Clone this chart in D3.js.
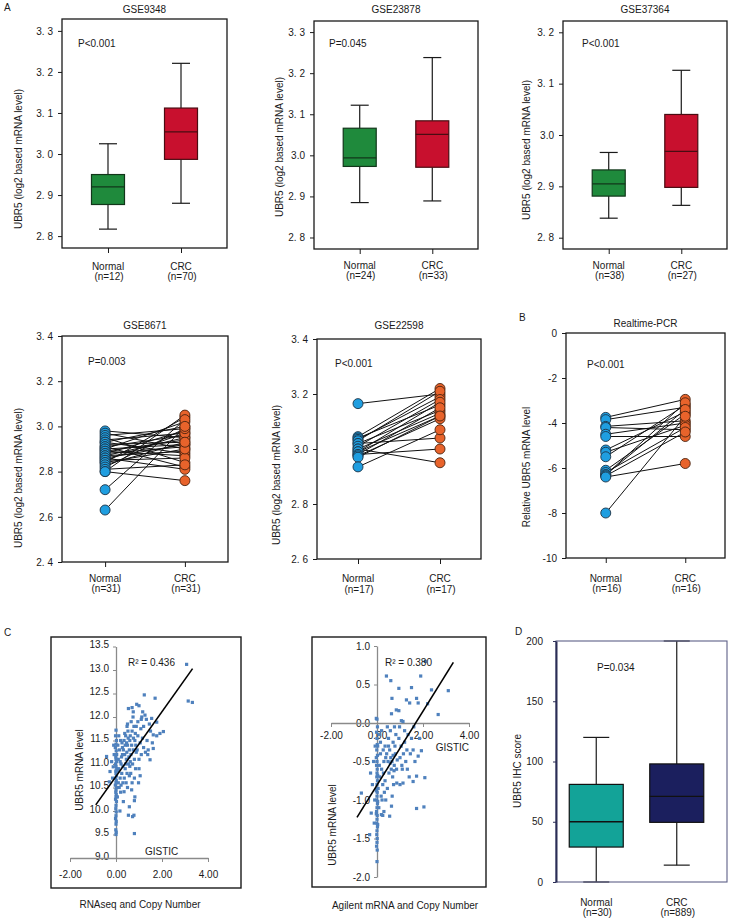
<!DOCTYPE html>
<html><head><meta charset="utf-8">
<script src="https://cdn.jsdelivr.net/npm/d3@7"></script>
<style>body{margin:0;background:#fff}svg{display:block;font-family:"Liberation Sans",Arial,sans-serif}</style>
</head><body><svg id="c" width="730" height="923"></svg>
<script>
// ---------------- DATA ----------------
const groups = ["Normal", "CRC"];
// box stats: [min, q1, median, q3, max]
const gse9348Stats = [[2.817, 2.877, 2.920, 2.950, 3.025], [2.880, 2.987, 3.054, 3.112, 3.221]];
const gse9348N = ["(n=12)", "(n=70)"];
const gse9348Ticks = [2.8, 2.9, 3.0, 3.1, 3.2, 3.3];
const gse9348TickLabels = ["2. 8", "2. 9", "3. 0", "3. 1", "3. 2", "3. 3"];

const gse23878Stats = [[2.885, 2.973, 2.994, 3.066, 3.122], [2.889, 2.971, 3.051, 3.084, 3.238]];
const gse23878N = ["(n=24)", "(n=33)"];
const gse23878Ticks = [2.8, 2.9, 3.0, 3.1, 3.2, 3.3];
const gse23878TickLabels = ["2. 8", "2. 9", "3.0", "3. 1", "3. 2", "3. 3"];

const gse37364Stats = [[2.838, 2.881, 2.905, 2.932, 2.966], [2.863, 2.898, 2.968, 3.040, 3.126]];
const gse37364N = ["(n=38)", "(n=27)"];
const gse37364Ticks = [2.8, 2.9, 3.0, 3.1, 3.2];
const gse37364TickLabels = ["2. 8", "2. 9", "3.0", "3. 1", "3. 2"];

const gse8671Normal = [2.98, 2.97, 2.96, 2.95, 2.94, 2.93, 2.93, 2.92, 2.91, 2.91, 2.90, 2.90, 2.89, 2.89, 2.88, 2.88, 2.87, 2.87, 2.86, 2.86, 2.85, 2.85, 2.84, 2.84, 2.83, 2.82, 2.81, 2.80, 2.80, 2.72, 2.63];
const gse8671CRC    = [2.95, 2.90, 2.99, 2.84, 2.97, 3.00, 2.88, 2.93, 2.96, 2.82, 2.92, 3.02, 2.87, 2.94, 2.91, 2.98, 2.89, 2.95, 2.81, 2.92, 2.97, 2.86, 2.90, 3.04, 2.93, 2.99, 2.83, 2.76, 3.05, 3.03, 3.00];
const gse8671N = ["(n=31)", "(n=31)"];
const gse8671Ticks = [2.4, 2.6, 2.8, 3.0, 3.2, 3.4];
const gse8671TickLabels = ["2. 4", "2.6", "2.8", "3. 0", "3. 2", "3. 4"];

const gse22598Normal = [3.165, 3.045, 3.04, 3.035, 3.03, 3.02, 3.02, 3.01, 3.00, 3.00, 2.99, 2.99, 2.98, 2.98, 2.975, 2.97, 2.935];
const gse22598CRC    = [3.20, 3.22, 3.16, 3.19, 3.21, 3.04, 3.14, 3.18, 3.13, 2.95, 3.17, 3.12, 3.00, 3.15, 3.11, 3.12, 3.07];
const gse22598N = ["(n=17)", "(n=17)"];
const gse22598Ticks = [2.6, 2.8, 3.0, 3.2, 3.4];
const gse22598TickLabels = ["2. 6", "2. 8", "3.0", "3. 2", "3. 4"];

const pcrNormal = [-3.75, -3.85, -4.15, -4.2, -4.5, -4.6, -5.2, -5.3, -5.5, -6.1, -6.2, -6.3, -6.3, -6.35, -6.4, -8.0];
const pcrCRC    = [-2.95, -3.3, -3.9, -4.3, -4.0, -4.6, -3.5, -4.1, -3.2, -3.6, -4.2, -3.1, -3.4, -4.4, -5.8, -3.7];
const pcrN = ["(n=16)", "(n=16)"];
const pcrTicks = [-10, -8, -6, -4, -2, 0];
const pcrTickLabels = ["-10", "-8", "-6", "-4", "-2", "0"];

const rnaseqPoints = [
 [0.0,11.72],[-0.02,11.6],[0.02,11.5],[0.0,11.42],[-0.03,11.35],[0.01,11.28],[0.03,11.2],[-0.01,11.15],[0.0,11.1],[0.02,11.05],
 [-0.02,11.0],[0.0,10.95],[0.03,10.9],[-0.01,10.85],[0.0,10.8],[0.02,10.75],[-0.02,10.7],[0.01,10.65],[0.0,10.6],[-0.03,10.55],
 [0.02,10.5],[0.0,10.45],[-0.01,10.4],[0.01,10.35],[0.0,10.3],[-0.02,10.25],[0.02,10.2],[0.0,10.12],[-0.01,10.05],[0.01,9.98],
 [0.0,9.9],[-0.02,9.84],[0.01,9.78],[0.0,9.72],[-0.01,9.6],[0.01,9.55],[0.0,9.5],
 [0.08,11.4],[0.1,11.1],[0.12,10.9],[0.15,11.3],[0.18,10.7],[0.2,11.5],[0.22,11.0],[0.25,10.8],[0.28,11.2],[0.1,10.6],
 [0.14,10.5],[0.2,10.4],[0.26,11.45],[0.3,10.95],[0.06,10.3],[0.17,10.0],[0.32,10.2],[0.12,11.6],[0.24,11.15],[0.3,10.6],
 [0.08,10.85],[0.18,11.05],[0.22,10.55],[0.28,11.35],
 [0.35,11.5],[0.38,11.2],[0.4,10.9],[0.42,11.6],[0.45,11.1],[0.48,10.8],[0.5,11.4],[0.52,11.7],[0.55,11.0],[0.58,11.3],
 [0.36,10.7],[0.4,11.4],[0.44,10.6],[0.47,11.25],[0.5,10.5],[0.53,11.55],[0.56,11.15],[0.6,10.95],[0.35,10.41],[0.54,12.18],
 [0.48,11.8],[0.42,11.0],[0.58,10.75],[0.38,11.65],[0.46,11.45],[0.54,9.91],[0.58,10.09],[0.32,11.3],[0.6,11.5],[0.5,11.85],
 [0.62,11.6],[0.65,11.2],[0.68,11.4],[0.7,11.7],[0.72,11.0],[0.75,11.3],[0.78,11.8],[0.8,11.1],[0.82,11.5],[0.85,10.9],
 [0.88,11.25],[0.64,10.8],[0.7,10.6],[0.74,12.0],[0.76,11.55],[0.8,10.7],[0.84,11.65],[0.66,11.9],[0.75,12.11],[0.72,9.88],
 [0.78,9.91],[0.8,9.52],[0.8,10.22],[0.9,12.27],[0.86,11.4],[0.68,10.45],[0.62,11.05],[0.88,11.8],[0.7,12.2],[0.82,10.3],
 [0.92,11.3],[0.95,11.6],[1.0,12.24],[1.0,11.1],[1.05,11.45],[1.08,11.75],[1.1,11.2],[1.12,12.0],[1.16,12.11],[1.2,11.35],
 [1.23,12.47],[1.26,12.04],[1.0,10.9],[1.15,11.55],[0.95,11.9],[1.05,10.75],[1.2,11.8],[1.28,11.25],[1.1,11.95],[0.98,10.6],
 [1.35,11.5],[1.4,11.3],[1.48,11.09],[1.5,11.7],[1.55,11.97],[1.62,11.62],[1.62,11.33],[1.7,12.4],[1.77,11.89],[1.77,11.6],
 [1.91,11.65],[2.06,11.69],[1.45,11.85],[1.38,11.2],[1.58,11.45],[1.32,11.95],
 [3.07,13.12],[3.14,12.34],[3.32,12.31],
 [-0.41,11.16],[-0.26,10.84],[-0.19,11.05],[-0.29,10.62],[-0.12,10.94],[-0.1,11.4],[-0.15,10.7],[-0.08,11.2]
];
const rnaseqFitX = [-0.88, 3.33];
const rnaseqFitY = [10.13, 13.03];
const rnaseqYTicks = [9.0, 9.5, 10.0, 10.5, 11.0, 11.5, 12.0, 12.5, 13.0, 13.5];
const gisticTicks = [-2, 0, 2, 4];
const gisticTickLabels = ["-2.00", "0.00", "2.00", "4.00"];

const agilentPoints = [
 [0.0,0.05],[0.02,-0.05],[-0.02,-0.12],[0.0,-0.2],[0.01,-0.28],[-0.01,-0.35],[0.02,-0.42],[0.0,-0.5],[-0.02,-0.55],[0.01,-0.6],
 [0.0,-0.65],[-0.01,-0.7],[0.02,-0.75],[0.0,-0.8],[-0.02,-0.85],[0.01,-0.9],[0.0,-0.95],[-0.01,-1.0],[0.02,-1.05],[0.0,-1.1],
 [-0.02,-1.15],[0.01,-1.2],[0.0,-1.25],[-0.01,-1.3],[0.02,-1.35],[0.0,-1.4],[-0.01,-1.45],[0.01,-1.5],[0.0,-1.55],[-0.02,-1.6],
 [0.01,-1.65],[0.0,-1.8],[0.03,-0.3],[-0.03,-0.45],[0.03,-0.68],[-0.03,-0.88],[0.03,-1.02],[-0.03,-1.18],[0.03,-1.32],
 [0.1,-0.15],[0.15,-0.4],[0.2,-0.6],[0.25,-0.8],[0.3,-0.5],[0.35,-0.3],[0.12,-0.7],[0.18,-0.95],[0.22,-1.0],[0.28,-0.65],
 [0.32,-0.9],[0.38,-0.45],[0.08,-1.1],[0.15,-0.25],[0.25,-1.2],[0.3,-1.15],[0.35,-0.75],[0.2,-0.1],[0.1,-0.55],[0.38,-1.0],
 [0.19,-1.19],[0.27,-0.35],[0.05,-0.85],
 [0.41,0.61],[0.6,0.55],[0.65,0.32],[0.63,0.12],[0.84,0.17],[0.45,-0.05],[0.5,-0.2],[0.55,-0.35],[0.6,-0.45],[0.65,-0.5],
 [0.7,-0.25],[0.75,-0.55],[0.8,-0.4],[0.85,-0.6],[0.48,-0.5],[0.52,-0.65],[0.58,-0.1],[0.68,-0.7],[0.72,-0.8],[0.78,-0.3],
 [0.82,-0.15],[0.88,-0.48],[0.55,-1.21],[0.63,-1.08],[0.45,-0.85],[0.62,-0.6],[0.7,-0.42],[0.5,-0.3],[0.76,-0.05],[0.66,-0.95],
 [0.42,-0.4],[0.86,-0.78],[0.58,-0.52],[0.74,-0.62],
 [0.95,0.45],[0.95,0.16],[1.06,0.03],[1.13,0.02],[1.28,0.30],[1.42,0.26],[0.95,-0.2],[1.0,-0.45],[1.05,-0.3],[1.1,-0.6],
 [1.15,-0.4],[1.2,-0.25],[1.25,-0.5],[1.3,-0.35],[1.35,-0.15],[1.4,-0.7],[1.45,-0.4],[1.13,-0.78],[1.0,-0.8],[0.98,-0.05],
 [1.2,-0.1],[1.5,-0.2],[1.5,0.46],[1.08,-0.55],[1.32,-0.6],
 [1.57,-0.35],[1.57,-0.76],[1.72,-0.69],[1.72,-1.11],[1.72,0.32],[1.79,0.26],[1.79,-0.43],[1.9,0.61],[1.93,-0.36],[2.04,-1.09],
 [2.08,-0.71],[2.37,0.43],[2.66,0.11],[3.1,0.42],[2.1,0.8],[1.6,-0.05],[1.85,-0.2],[2.2,0.25],[1.65,-0.5],
 [-0.03,0.06],[-0.25,-1.17],[-0.68,-0.91],[-0.28,-0.65],[-0.32,-1.45],[-0.15,-0.5],[-0.1,-1.0],[-0.2,-0.8],[-0.12,-1.3],[-0.08,-0.3]
];
const agilentFitX = [-0.87, 3.32];
const agilentFitY = [-1.225, 0.788];
const agilentYTicks = [-2.0, -1.5, -1.0, -0.5, 0.0, 0.5, 1.0];

const ihcStats = [[0, 29, 50, 81, 120], [14, 49.5, 71, 98, 200]];
const ihcN = ["(n=30)", "(n=889)"];
const ihcTicks = [0, 50, 100, 150, 200];

// ---------------- DRAWING ----------------
const svg = d3.select("#c");
const INK = "#1a1a1a";

function text(x, y, s, o = {}) {
  const t = svg.append("text").attr("x", x).attr("y", y).text(s)
    .attr("font-size", o.size || 10).attr("fill", o.fill || INK)
    .attr("text-anchor", o.anchor || "start");
  return t;
}
function vtext(cx, cy, s, o = {}) {
  const x = cx + 3.5;
  svg.append("text").attr("x", x).attr("y", cy).text(s)
    .attr("font-size", o.size || 10).attr("fill", o.fill || INK)
    .attr("text-anchor", "middle").attr("transform", `rotate(-90,${x},${cy})`);
}
function styleAxis(g, color, size) {
  g.selectAll("text").attr("font-size", size || 10).attr("fill", INK).attr("font-family", "Liberation Sans, Arial, sans-serif");
  g.selectAll("line").attr("stroke", color);
  g.select(".domain").attr("stroke", color);
}
function xLabels(x, nLabels, y1, y2) {
  groups.forEach((gname, i) => {
    text(x(gname), y1, gname, { anchor: "middle" });
    text(x(gname) + 1, y2, nLabels[i], { anchor: "middle" });
  });
}

function frameAndAxes(o, x, y) {
  svg.append("rect").attr("x", o.left).attr("y", o.top)
    .attr("width", o.right - o.left).attr("height", o.bottom - o.top)
    .attr("fill", "none").attr("stroke", INK).attr("stroke-width", 1.3);
  const ya = svg.append("g").attr("transform", `translate(${o.left},0)`)
    .call(d3.axisLeft(y).tickValues(o.ticks).tickFormat((d, i) => o.tickLabels[i]).tickSize(4).tickPadding(5).tickSizeOuter(0));
  ya.select(".domain").remove();
  styleAxis(ya, INK);
  const xa = svg.append("g").attr("transform", `translate(0,${o.bottom})`)
    .call(d3.axisBottom(x).tickSize(5).tickFormat("").tickSizeOuter(0));
  xa.select(".domain").remove();
  styleAxis(xa, INK);
  text((o.left + o.right) / 2, o.titleY, o.title, { anchor: "middle" });
  text(o.pX, o.pY, o.p);
  vtext(o.ylx, o.yly, o.ylab);
  xLabels(x, o.nLabels, o.xl1, o.xl2);
}

function boxPanel(o) {
  const x = d3.scalePoint().domain(groups).range([o.left, o.right]).padding(o.pad);
  const y = d3.scaleLinear().domain(o.domain).range([o.bottom, o.top]);
  const bw = 33, cw = 18;
  o.stats.forEach((s, i) => {
    const cx = x(groups[i]);
    const [mn, q1, md, q3, mx] = s;
    svg.append("line").attr("x1", cx).attr("x2", cx).attr("y1", y(mx)).attr("y2", y(q3)).attr("stroke", INK).attr("stroke-width", 1.2);
    svg.append("line").attr("x1", cx).attr("x2", cx).attr("y1", y(q1)).attr("y2", y(mn)).attr("stroke", INK).attr("stroke-width", 1.2);
    [mn, mx].forEach(v => svg.append("line").attr("x1", cx - cw / 2).attr("x2", cx + cw / 2).attr("y1", y(v)).attr("y2", y(v)).attr("stroke", INK).attr("stroke-width", 1.2));
    svg.append("rect").attr("x", cx - bw / 2).attr("y", y(q3)).attr("width", bw).attr("height", y(q1) - y(q3))
      .attr("fill", o.fills[i]).attr("stroke", o.strokes[i]).attr("stroke-width", 1.2);
    svg.append("line").attr("x1", cx - bw / 2).attr("x2", cx + bw / 2).attr("y1", y(md)).attr("y2", y(md)).attr("stroke", o.strokes[i]).attr("stroke-width", 1.3);
  });
  frameAndAxes(o, x, y);
}

function pairPanel(o) {
  const x = d3.scalePoint().domain(groups).range([o.left, o.right]).padding(o.pad);
  const y = d3.scaleLinear().domain(o.domain).range([o.bottom, o.top]);
  frameAndAxes(o, x, y);
  const xn = x("Normal"), xc = x("CRC");
  o.normal.forEach((v, i) => {
    svg.append("line").attr("x1", xn).attr("y1", y(v)).attr("x2", xc).attr("y2", y(o.crc[i]))
      .attr("stroke", "#111").attr("stroke-width", 1);
  });
  o.normal.forEach(v => svg.append("circle").attr("cx", xn).attr("cy", y(v)).attr("r", 5)
    .attr("fill", "#1f9ee0").attr("stroke", "#1d3346").attr("stroke-width", 0.9));
  o.crc.forEach(v => svg.append("circle").attr("cx", xc).attr("cy", y(v)).attr("r", 5)
    .attr("fill", "#e8632b").attr("stroke", "#4a2410").attr("stroke-width", 0.9));
}

const greenRed = { fills: ["#1f8a3c", "#c8102e"], strokes: ["#12361a", "#4a0c12"] };
const yl = "UBR5 (log2 based mRNA level)";

text(4, 11, "A", { size: 10 });
boxPanel({ left: 62, right: 227, top: 19, bottom: 248, pad: 0.63, domain: [2.771, 3.329],
  ticks: gse9348Ticks, tickLabels: gse9348TickLabels, stats: gse9348Stats, nLabels: gse9348N,
  title: "GSE9348", titleY: 13, p: "P<0.001", pX: 78, pY: 47, ylab: yl, ylx: 18, yly: 159,
  xl1: 270, xl2: 280, ...greenRed });
boxPanel({ left: 314, right: 478, top: 21, bottom: 249, pad: 0.63, domain: [2.772, 3.327],
  ticks: gse23878Ticks, tickLabels: gse23878TickLabels, stats: gse23878Stats, nLabels: gse23878N,
  title: "GSE23878", titleY: 13, p: "P=0.045", pX: 329, pY: 47, ylab: yl, ylx: 279, yly: 147,
  xl1: 269, xl2: 279, ...greenRed });
boxPanel({ left: 563, right: 727, top: 21, bottom: 249, pad: 0.63, domain: [2.778, 3.222],
  ticks: gse37364Ticks, tickLabels: gse37364TickLabels, stats: gse37364Stats, nLabels: gse37364N,
  title: "GSE37364", titleY: 13, p: "P<0.001", pX: 582, pY: 47, ylab: yl, ylx: 526, yly: 150,
  xl1: 269, xl2: 279, ...greenRed });

pairPanel({ left: 62, right: 228, top: 336, bottom: 562, pad: 0.54, domain: [2.4, 3.4],
  ticks: gse8671Ticks, tickLabels: gse8671TickLabels, normal: gse8671Normal, crc: gse8671CRC, nLabels: gse8671N,
  title: "GSE8671", titleY: 329, p: "P=0.003", pX: 88, pY: 365, ylab: yl, ylx: 18, yly: 478,
  xl1: 582, xl2: 592 });
pairPanel({ left: 317, right: 481, top: 339, bottom: 559, pad: 0.5, domain: [2.6, 3.4],
  ticks: gse22598Ticks, tickLabels: gse22598TickLabels, normal: gse22598Normal, crc: gse22598CRC, nLabels: gse22598N,
  title: "GSE22598", titleY: 329, p: "P<0.001", pX: 335, pY: 367, ylab: yl, ylx: 276, yly: 475,
  xl1: 582, xl2: 593 });
text(519, 321, "B", { size: 10 });
pairPanel({ left: 566, right: 725, top: 333, bottom: 558, pad: 0.5, domain: [-10, 0],
  ticks: pcrTicks, tickLabels: pcrTickLabels, normal: pcrNormal, crc: pcrCRC, nLabels: pcrN,
  title: "Realtime-PCR", titleY: 327, p: "P<0.001", pX: 587, pY: 368, ylab: "Relative UBR5 mRNA level", ylx: 526, yly: 467,
  xl1: 582, xl2: 592 });

// ---- C scatter panels ----
function scatterPanel(o) {
  svg.append("rect").attr("x", o.fl).attr("y", o.ft).attr("width", o.fr - o.fl).attr("height", o.fb - o.ft)
    .attr("fill", "none").attr("stroke", INK).attr("stroke-width", 1.4);
  const x = d3.scaleLinear().domain([-2, 4]).range(o.xr);
  const y = d3.scaleLinear().domain(o.ydom).range(o.yr);
  const gray = "#8a8a8a";
  const ya = svg.append("g").attr("transform", `translate(${x(0)},0)`)
    .call(d3.axisLeft(y).tickValues(o.yTicks).tickFormat(d3.format(".1f")).tickSize(3).tickPadding(4).tickSizeOuter(0));
  styleAxis(ya, gray);
  ya.selectAll("text").text((d) => d3.format(".1f")(d).replace("−", "-"));
  ya.select(".domain").attr("stroke-width", 1.3);
  if (o.yLabShift) ya.selectAll(".tick text").attr("dy", o.yLabShift);
  const xa = svg.append("g").attr("transform", `translate(0,${y(o.xAt)})`)
    .call(d3.axisBottom(x).tickValues(gisticTicks).tickFormat((d, i) => gisticTickLabels[i]).tickSize(4).tickPadding(o.xPad).tickSizeOuter(0));
  styleAxis(xa, gray);
  xa.select(".domain").attr("stroke-width", 1.3);
  svg.append("g").selectAll("rect").data(o.points).join("rect")
    .attr("x", d => x(d[0]) - 1.6).attr("y", d => y(d[1]) - 1.6).attr("width", 3.2).attr("height", 3.2)
    .attr("fill", "#4f81bd");
  svg.append("line").attr("x1", x(o.fitX[0])).attr("y1", y(o.fitY[0])).attr("x2", x(o.fitX[1])).attr("y2", y(o.fitY[1]))
    .attr("stroke", "#000").attr("stroke-width", 1.6);
  text(o.rX, o.rY, o.r2);
  text(o.gX, o.gY, "GISTIC", { anchor: o.gAnchor || "start" });
  vtext(o.ylx, o.yly, "UBR5 mRNA level");
  text((o.fl + o.fr) / 2 + o.subDx, o.subY, o.sub, { anchor: "middle" });
}
text(4, 636, "C", { size: 10 });
scatterPanel({ fl: 51, fr: 241, ft: 637, fb: 888, xr: [70, 208], ydom: [9, 13.5], yr: [858, 646.5], yTicks: rnaseqYTicks,
  xAt: 9, xPad: 9, yLabShift: "0.1em", points: rnaseqPoints, fitX: rnaseqFitX, fitY: rnaseqFitY,
  r2: "R² = 0.436", rX: 128, rY: 666, gX: 145, gY: 855, ylx: 79, yly: 770,
  sub: "RNAseq and Copy Number", subY: 908, subDx: -6 });
scatterPanel({ fl: 312, fr: 486, ft: 637, fb: 887, xr: [331, 469], ydom: [-2, 1], yr: [877, 646], yTicks: agilentYTicks,
  xAt: 0, xPad: 5, points: agilentPoints, fitX: agilentFitX, fitY: agilentFitY,
  r2: "R² = 0.380", rX: 385, rY: 666, gX: 469, gY: 751, gAnchor: "end", ylx: 332, yly: 825,
  sub: "Agilent mRNA and Copy Number", subY: 909, subDx: 6 });

// ---- D IHC box plot ----
(function () {
  const left = 556, right = 727, top = 641, bottom = 882;
  const x = d3.scalePoint().domain(groups).range([left, 717]).padding(0.5);
  const y = d3.scaleLinear().domain([0, 200]).range([bottom, top]);
  const fills = ["#13a398", "#1b1f5e"];
  const bw = 54, cw = 26;
  text(515, 635, "D", { size: 10 });
  ihcStats.forEach((s, i) => {
    const cx = x(groups[i]);
    const [mn, q1, md, q3, mx] = s;
    svg.append("line").attr("x1", cx).attr("x2", cx).attr("y1", y(mx)).attr("y2", y(q3)).attr("stroke", INK).attr("stroke-width", 1.2);
    svg.append("line").attr("x1", cx).attr("x2", cx).attr("y1", y(q1)).attr("y2", y(mn)).attr("stroke", INK).attr("stroke-width", 1.2);
    [mn, mx].forEach(v => svg.append("line").attr("x1", cx - cw / 2).attr("x2", cx + cw / 2).attr("y1", y(v)).attr("y2", y(v)).attr("stroke", INK).attr("stroke-width", 1.2));
    svg.append("rect").attr("x", cx - bw / 2).attr("y", y(q3)).attr("width", bw).attr("height", y(q1) - y(q3))
      .attr("fill", fills[i]).attr("stroke", "#111").attr("stroke-width", 1.2);
    svg.append("line").attr("x1", cx - bw / 2).attr("x2", cx + bw / 2).attr("y1", y(md)).attr("y2", y(md)).attr("stroke", "#111").attr("stroke-width", 1.3);
  });
  svg.append("rect").attr("x", left).attr("y", top).attr("width", right - left).attr("height", bottom - top)
    .attr("fill", "none").attr("stroke", "#5d6088").attr("stroke-width", 1.1);
  const ya = svg.append("g").attr("transform", `translate(${left},0)`)
    .call(d3.axisLeft(y).tickValues(ihcTicks).tickSize(3).tickPadding(10).tickSizeOuter(0));
  styleAxis(ya, "#2a2d55");
  ya.select(".domain").attr("stroke-width", 2);
  text(597, 671, "P=0.034");
  vtext(517, 771, "UBR5 IHC score");
  groups.forEach((g, i) => {
    text(x(g), 906, g, { anchor: "middle" });
    text(x(g) + 1, 916, ihcN[i], { anchor: "middle" });
  });
})();
</script></body></html>
